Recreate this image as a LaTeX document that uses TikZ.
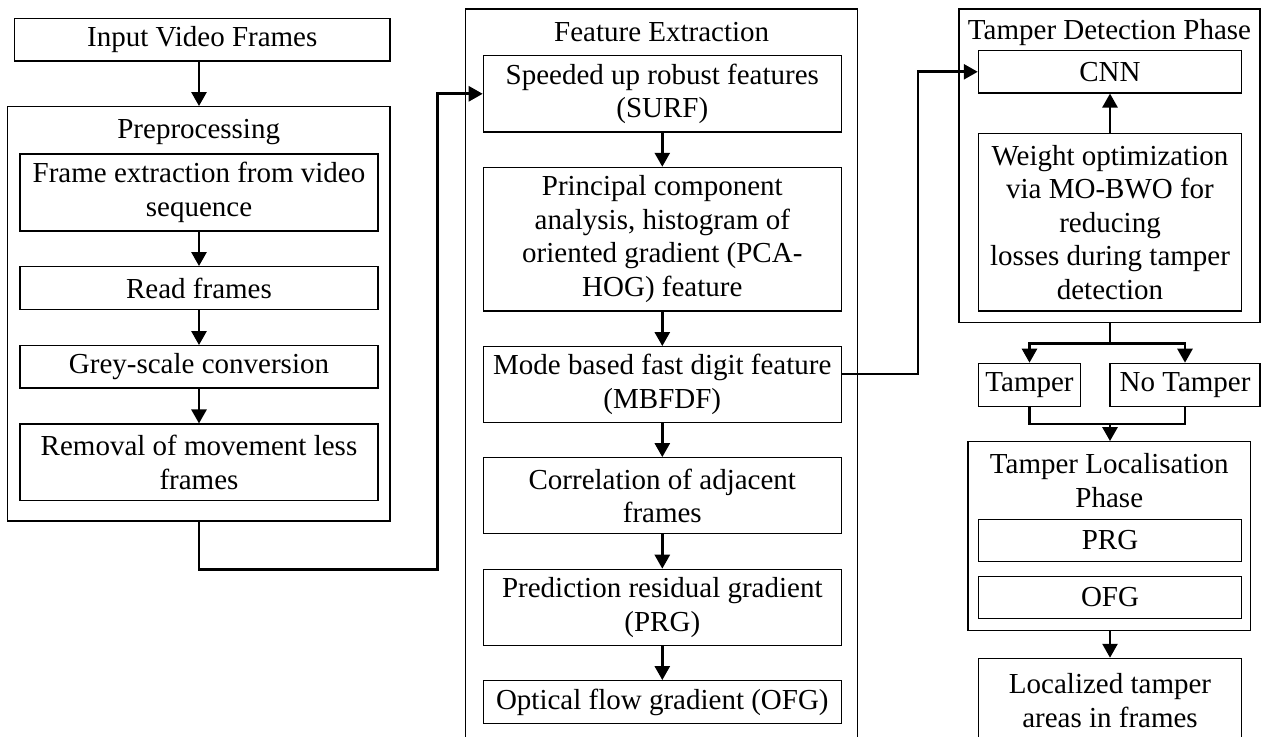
\documentclass[tikz,border=0pt]{standalone}
\usepackage{fontspec}
\setmainfont{Liberation Serif}
\usetikzlibrary{arrows.meta}
\begin{document}
\begin{tikzpicture}[x=1pt,y=-1pt,
  font=\fontsize{29}{33.5}\selectfont,
  blk/.style 2 args={draw, line width=1.2pt, align=center, inner sep=0pt,
    minimum width=#1pt, minimum height=#2pt},
  frame/.style 2 args={draw, line width=1.2pt, inner sep=0pt,
    minimum width=#1pt, minimum height=#2pt},
  ttl/.style={inner sep=0pt, align=center},
  wire/.style={line width=2.7pt},
  arr/.style={line width=2.7pt, -{Triangle[length=14pt,width=15pt]}}]
\useasboundingbox (0,0) rectangle (1263,736);

% ---- input and preprocessing ----
\node[frame={382.7}{414.3}] (pre) at (198.7,313.8) {};
\node[ttl] (pret) at (198.7,131.7) {Preprocessing};
\node[blk={375.3}{42.7}] (inp) at (202.3,39.7) {Input Video Frames};
\node[blk={358}{77}] (fe) at (199,192.5) {Frame extraction from video\\sequence};
\node[blk={358}{42.7}] (rf) at (199,288) {Read frames};
\node[blk={358}{42.3}] (gs) at (199,366.8) {Grey-scale conversion};
\node[blk={358}{76.3}] (rm) at (199,462.2) {Removal of movement less\\frames};

% ---- feature extraction ----
\node[frame={392}{736}] (feat) at (661.7,377) {};
\node[ttl] (featt) at (661.7,32) {Feature Extraction};
\node[blk={358}{76.3}] (surf) at (662.3,93.8) {Speeded up robust features\\(SURF)};
\node[blk={358}{143.7}] (pca) at (662.3,239.2) {Principal component\\analysis, histogram of\\oriented gradient (PCA-\\HOG) feature};
\node[blk={358}{75.7}] (mb) at (662.3,384.5) {Mode based fast digit feature\\(MBFDF)};
\node[blk={358}{76}] (corr) at (662.3,495.7) {Correlation of adjacent\\frames};
\node[blk={358}{76}] (prg) at (662.3,607.3) {Prediction residual gradient\\(PRG)};
\node[blk={358}{42.7}] (ofg) at (662.3,702) {Optical flow gradient (OFG)};

% ---- tamper detection ----
\node[frame={301}{313.3}] (td) at (1109.5,165.7) {};
\node[ttl] (tdt) at (1109.5,32.3) {Tamper Detection Phase};
\node[blk={263.3}{42.3}] (cnn) at (1110,71.8) {CNN};
\node[blk={263.3}{177.3}] (wo) at (1110,222.3) {Weight optimization\\via MO-BWO for\\reducing\\losses during tamper\\detection};
\node[blk={101.7}{43}] (tam) at (1029.5,384.8) {Tamper};
\node[blk={150}{43}] (notam) at (1185,384.8) {No Tamper};

% ---- tamper localisation ----
\node[frame={282.7}{189}] (loc) at (1109.3,536.2) {};
\node[ttl] (loct) at (1109.3,480.5) {Tamper Localisation\\Phase};
\node[blk={263.3}{42.3}] (lprg) at (1110,540.5) {PRG};
\node[blk={263.3}{42.3}] (lofg) at (1110,597.5) {OFG};
\node[blk={263.3}{84.7}] (fin) at (1110,700.7) {Localized tamper\\areas in frames};

% ---- connectors ----
\coordinate (j1) at (437.3,569.3);
\coordinate (j2) at (918,374);
\coordinate (j3) at (1110,343.3);
\coordinate (j4) at (1110,424);

\draw[arr] (inp.south -| fe.north) -- (pre.north -| fe.north);
\draw[arr] (fe.south) -- (rf.north);
\draw[arr] (rf.south) -- (gs.north);
\draw[arr] (gs.south) -- (rm.north);
\draw[arr] (pre.south -| fe.south) |- (j1) |- (surf.west);

\draw[arr] (surf.south) -- (pca.north);
\draw[arr] (pca.south) -- (mb.north);
\draw[arr] (mb.south) -- (corr.north);
\draw[arr] (corr.south) -- (prg.north);
\draw[arr] (prg.south) -- (ofg.north);
\draw[arr] (mb.east |- j2) -- (j2) |- (cnn.west);

\draw[arr] (wo.north) -- (cnn.south);
\draw[wire] (td.south -| j3) -- (j3);
\draw[arr] (j3) -| (tam.north);
\draw[arr] (j3) -| (notam.north);
\draw[wire] (tam.south) |- (j4) -| (notam.south);
\draw[arr] (j4) -- (loc.north -| j4);
\draw[arr] (loc.south -| fin.north) -- (fin.north);
\end{tikzpicture}
\end{document}
